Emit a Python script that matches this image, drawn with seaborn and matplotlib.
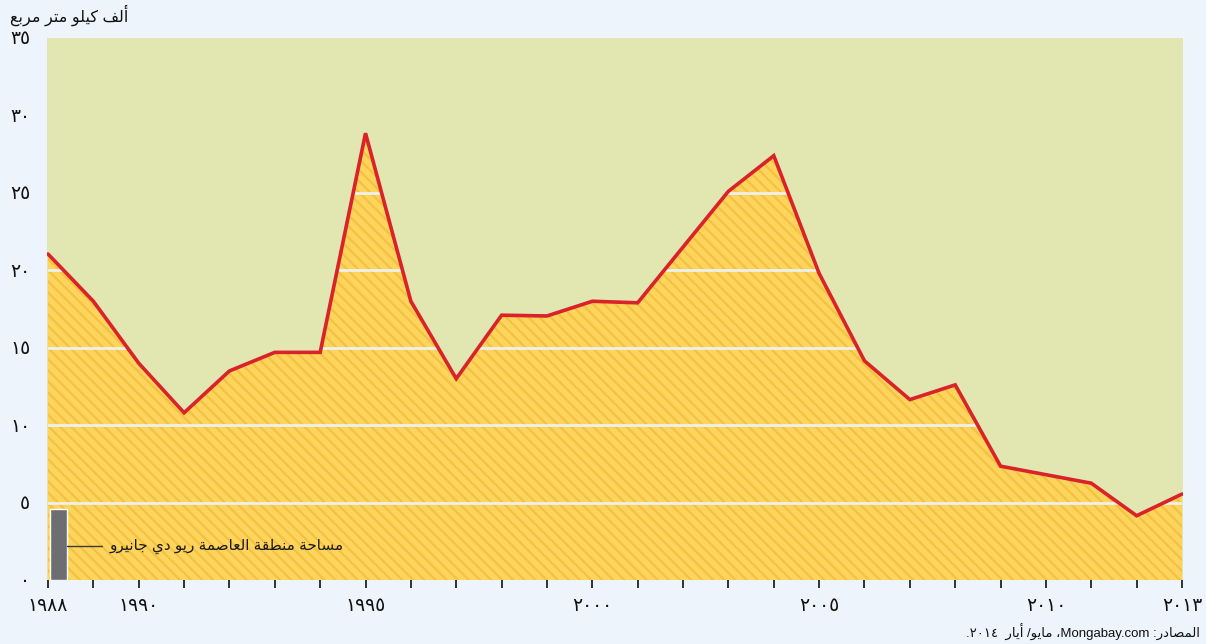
import re
import matplotlib
matplotlib.use("Agg")
import matplotlib.pyplot as plt
import seaborn as sns
import pandas as pd

# Deforestation in the Brazilian Amazon, thousand km2 per year
years = list(range(1988, 2014))
area = [21.05, 18.0, 14.0, 10.8, 13.5, 14.7, 14.7, 28.85, 18.0, 13.0,
        17.1, 17.05, 18.0, 17.9, 21.5, 25.1, 27.4, 19.8, 14.15, 11.65,
        12.6, 7.35, 6.8, 6.25, 4.15, 5.55]
rio_area = 4.6
y_ticks = [0, 5, 10, 15, 20, 25, 30, 35]
x_label_years = [1988, 1990, 1995, 2000, 2005, 2010, 2013]

unit_label = "ألف كيلو متر مربع"
rio_label = "مساحة منطقة العاصمة ريو دي جانيرو"
source_label = "المصادر: Mongabay.com، مايو/ أيار  ٢٠١٤."

# matplotlib has no Arabic shaping: map letters to presentation forms
# (isolated, final, initial, medial) and lay them out right to left.
FORMS = {
    'ا': (0xFE8D, 0xFE8E, None, None),
    'أ': (0xFE83, 0xFE84, None, None),
    'ة': (0xFE93, 0xFE94, None, None),
    'د': (0xFEA9, 0xFEAA, None, None),
    'ر': (0xFEAD, 0xFEAE, None, None),
    'و': (0xFEED, 0xFEEE, None, None),
    'ب': (0xFE8F, 0xFE90, 0xFE91, 0xFE92),
    'ت': (0xFE95, 0xFE96, 0xFE97, 0xFE98),
    'ج': (0xFE9D, 0xFE9E, 0xFE9F, 0xFEA0),
    'ح': (0xFEA1, 0xFEA2, 0xFEA3, 0xFEA4),
    'س': (0xFEB1, 0xFEB2, 0xFEB3, 0xFEB4),
    'ص': (0xFEB9, 0xFEBA, 0xFEBB, 0xFEBC),
    'ط': (0xFEC1, 0xFEC2, 0xFEC3, 0xFEC4),
    'ع': (0xFEC9, 0xFECA, 0xFECB, 0xFECC),
    'ف': (0xFED1, 0xFED2, 0xFED3, 0xFED4),
    'ق': (0xFED5, 0xFED6, 0xFED7, 0xFED8),
    'ك': (0xFED9, 0xFEDA, 0xFEDB, 0xFEDC),
    'ل': (0xFEDD, 0xFEDE, 0xFEDF, 0xFEE0),
    'م': (0xFEE1, 0xFEE2, 0xFEE3, 0xFEE4),
    'ن': (0xFEE5, 0xFEE6, 0xFEE7, 0xFEE8),
    'ي': (0xFEF1, 0xFEF2, 0xFEF3, 0xFEF4),
}
LTR = r'[A-Za-z0-9\u0660-\u0669]'


def shape(text):
    out = []
    for i, ch in enumerate(text):
        if ch not in FORMS:
            out.append(ch)
            continue
        iso, fin, ini, med = FORMS[ch]
        prev = text[i - 1] if i > 0 else ''
        nxt = text[i + 1] if i + 1 < len(text) else ''
        p = prev in FORMS and FORMS[prev][2] is not None
        n = ini is not None and nxt in FORMS
        code = med if (p and n) else fin if p else ini if n else iso
        out.append(chr(code))
    return ''.join(out)


def rtl(text):
    runs = re.findall(LTR + r'(?:[A-Za-z0-9\u0660-\u0669.]*' + LTR + r')?|[^A-Za-z0-9\u0660-\u0669]+',
                      shape(text))
    return ''.join(r if re.match(LTR, r) else r[::-1] for r in reversed(runs))


def ar_digits(n):
    return str(n).translate(str.maketrans('0123456789', '٠١٢٣٤٥٦٧٨٩'))


sns.set_theme(style="white")
plt.rcParams['font.family'] = ['Liberation Sans', 'DejaVu Sans']
plt.rcParams['hatch.linewidth'] = 1.6

df = pd.DataFrame({'year': years, 'area': area})

fig = plt.figure(figsize=(12.06, 6.44), dpi=100, facecolor='#EEF4FC')
ax = fig.add_axes([47 / 1206, 1 - 580 / 644, 1136 / 1206, 542 / 644])
ax.set_facecolor('#E2E6B0')

fill = ax.fill_between(df['year'], 0, df['area'], facecolor='#FDD55E',
                       edgecolor='#F5C13E', hatch='\\\\\\', linewidth=0, zorder=1)

# white gridlines only inside the filled area
clip = fill.get_paths()[0]
for y in y_ticks[1:-1]:
    ln = ax.axhline(y, color='#EEF0EC', lw=2, zorder=2)
    ln.set_clip_path(clip, ax.transData)

sns.lineplot(data=df, x='year', y='area', color='#D9222A', lw=2.6,
             solid_joinstyle='miter', ax=ax, zorder=3)

ax.bar(1988.04, rio_area, width=0.38, align='edge', color='#6E6E72', zorder=4)
ax.plot([1988.42, 1989.2], [2.2, 2.2], color='#3A3A3A', lw=1, zorder=4)
ax.text(1989.36, 2.2, rtl(rio_label), ha='left', va='center',
        fontsize=11, color='#1A1A1A', zorder=5)

ax.set_xlim(1987.978, 2013.022)
ax.set_ylim(0, 35)
ax.set_xticks(years)
ax.set_xticklabels([ar_digits(y) if y in x_label_years else '' for y in years])
ax.set_yticks(y_ticks)
ax.set_yticklabels([ar_digits(v) for v in y_ticks])
ax.tick_params(axis='x', length=6, width=1.3, color='#222222', pad=7,
               labelsize=13.5, labelcolor='#111111', bottom=True)
ax.tick_params(axis='y', length=0, pad=12, labelsize=13.5, labelcolor='#111111')
ax.set_xlabel('')
ax.set_ylabel('')
for s in ax.spines.values():
    s.set_visible(False)

fig.text(10 / 1206, 1 - 15 / 644, rtl(unit_label), ha='left', va='center',
         fontsize=11.5, color='#111111')
fig.text(1200 / 1206, 1 - 632 / 644, rtl(source_label), ha='right', va='center',
         fontsize=9.5, color='#111111')

fig.savefig('out.png', dpi=100, facecolor=fig.get_facecolor())
plt.close(fig)
